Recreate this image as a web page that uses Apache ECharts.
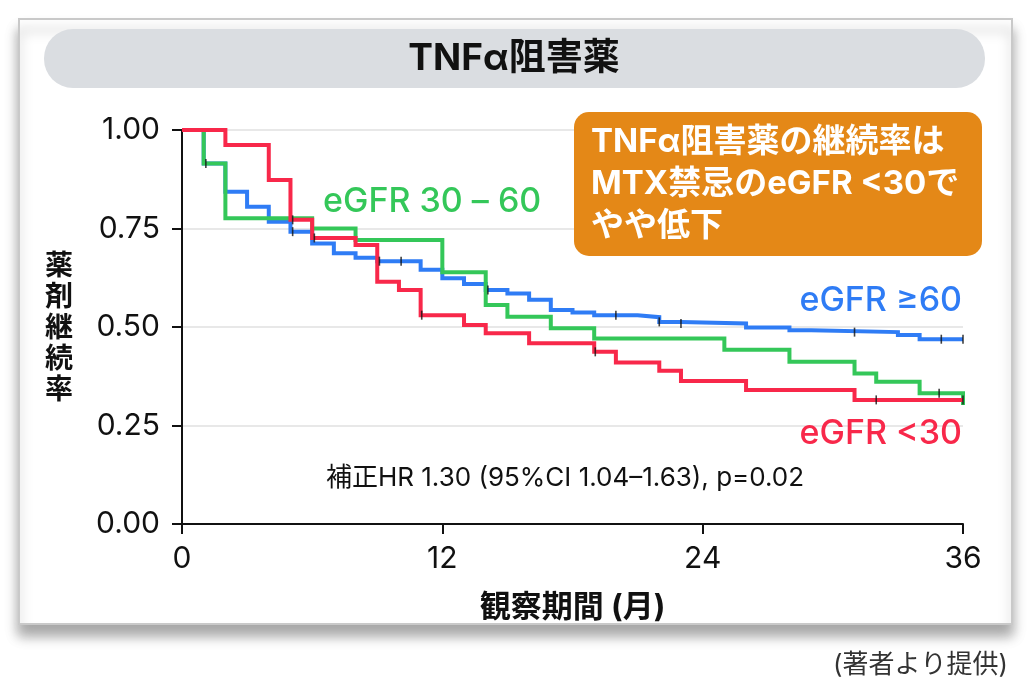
<!DOCTYPE html>
<html><head><meta charset="utf-8">
<script src="https://cdn.jsdelivr.net/npm/echarts@6/dist/echarts.min.js"></script>
<style>html,body{margin:0;padding:0;background:#fff}#c{width:1029px;height:690px}</style>
</head><body><div id="c"></div>
<script>
// ---- data ----
const xTicks = [0, 12, 24, 36];
const yTicks = [0, 0.25, 0.5, 0.75, 1.0];

const blueName = 'eGFR ≥60';
const blueT = [0, 1, 2, 3, 4, 5, 6, 7, 8, 9, 11, 12, 13, 14, 15, 16, 17, 18, 19, 21, 22, 23, 26, 28, 29, 33, 34, 36];
const blueS = [1.00, 0.915, 0.843, 0.805, 0.767, 0.742, 0.712, 0.687, 0.676, 0.667, 0.645, 0.624, 0.609, 0.594, 0.585, 0.569, 0.543, 0.537, 0.530, 0.525, 0.513, 0.509, 0.499, 0.492, 0.487, 0.480, 0.469, 0.469];
const blueCens = [5.1, 9.1, 10.1, 14.1, 20, 22, 23, 31, 35, 36];

const greenName = 'eGFR 30 – 60';
const greenT = [0, 1, 2, 6, 8, 12, 14, 15, 17, 19, 25, 28, 31, 32, 34, 36];
const greenS = [1.00, 0.915, 0.776, 0.750, 0.721, 0.639, 0.556, 0.526, 0.497, 0.471, 0.442, 0.412, 0.382, 0.361, 0.332, 0.302];
const greenCens = [1.1, 34.9];

const redName = 'eGFR <30';
const redT = [0, 2, 4, 5, 6, 8, 9, 10, 11, 13, 14, 16, 19, 20, 22, 23, 26, 31, 36];
const redS = [1.00, 0.962, 0.873, 0.772, 0.726, 0.708, 0.615, 0.594, 0.530, 0.505, 0.484, 0.459, 0.437, 0.410, 0.389, 0.363, 0.340, 0.315, 0.315];
const redCens = [5.1, 6.1, 11.05, 19.05, 32, 36];

const titleText = 'TNFα阻害薬';
const boxLines = ['TNFα阻害薬の継続率は', 'MTX禁忌のeGFR <30で', 'やや低下'];
const hrText = '補正HR 1.30 (95%CI 1.04–1.63), p=0.02';
const yName = '薬剤継続率';
const xName = '観察期間 (月)';
const footer = '(著者より提供)';

// ---- build ----
const BLUE = '#2f7cf5', GREEN = '#34c759', RED = '#f8284a';
const FONT = 'Inter, "Noto Sans CJK JP", sans-serif';
const zip = (T, S) => T.map((t, i) => [t, S[i]]);
const stepAt = (T, S, t) => { let v = S[0]; for (let i = 0; i < T.length; i++) if (T[i] <= t) v = S[i]; return v; };
const cens = (T, S, C) => C.map(t => [t, stepAt(T, S, t)]);

const lineSeries = (name, T, S, color) => ({
  type: 'line', name, step: 'end', data: zip(T, S), showSymbol: false, symbol: 'none',
  lineStyle: { color, width: 4, join: 'miter' }, silent: true, animation: false
});
const censSeries = (T, S, C) => ({
  type: 'scatter', data: cens(T, S, C), symbol: 'rect', symbolSize: [1.6, 9],
  itemStyle: { color: '#111' }, z: 5, silent: true, animation: false
});

const chart = echarts.init(document.getElementById('c'), null, { renderer: 'canvas' });
chart.setOption({
  backgroundColor: '#fff',
  animation: false,
  grid: { left: 182, right: 66, top: 130, bottom: 166, containLabel: false },
  xAxis: {
    type: 'value', min: 0, max: 36, interval: 12,
    axisLine: { show: true, lineStyle: { color: '#111', width: 2 } },
    axisTick: { show: true, length: 10, lineStyle: { color: '#111', width: 2 } },
    axisLabel: { fontSize: 30, color: '#111', fontFamily: FONT, margin: 20 },
    splitLine: { show: false },
    name: xName, nameLocation: 'middle', nameGap: 68,
    nameTextStyle: { fontSize: 31, fontWeight: 'bold', color: '#111', fontFamily: FONT }
  },
  yAxis: {
    type: 'value', min: 0, max: 1, interval: 0.25,
    axisLine: { show: true, lineStyle: { color: '#111', width: 2 } },
    axisTick: { show: true, length: 10, lineStyle: { color: '#111', width: 2 } },
    axisLabel: { fontSize: 30, color: '#111', fontFamily: FONT, margin: 22, formatter: v => v.toFixed(2) },
    splitLine: { show: true, lineStyle: { color: '#e8e8e8', width: 2 } }
  },
  series: [
    lineSeries(blueName, blueT, blueS, BLUE),
    lineSeries(greenName, greenT, greenS, GREEN),
    lineSeries(redName, redT, redS, RED),
    censSeries(blueT, blueS, blueCens),
    censSeries(greenT, greenS, greenCens),
    censSeries(redT, redS, redCens)
  ],
  graphic: [
    { type: 'rect', z: -10, shape: { x: 19, y: 19, width: 993, height: 605 },
      style: { fill: '#fff', stroke: '#c9c9c9', lineWidth: 2, shadowBlur: 12, shadowOffsetY: 11, shadowColor: 'rgba(0,0,0,0.35)' } },
    { type: 'rect', z: -9, shape: { x: 44, y: 29, width: 941, height: 59, r: 29 }, style: { fill: '#dadde1' } },
    { type: 'text', z: 100, x: 514, y: 59, style: { text: titleText, font: 'bold 37px ' + FONT, fill: '#111', align: 'center', verticalAlign: 'middle' } },
    { type: 'rect', z: 90, shape: { x: 574, y: 112, width: 408, height: 144, r: 15 }, style: { fill: '#e48817' } },
    { type: 'text', z: 100, x: 591, y: 121, style: { text: boxLines.join('\n'), font: 'bold 33px ' + FONT, lineHeight: 42, fill: '#fff', align: 'left', verticalAlign: 'top' } },
    { type: 'text', z: 100, x: 323, y: 202, style: { text: greenName, font: '500 34px ' + FONT, fill: GREEN, align: 'left', verticalAlign: 'middle' } },
    { type: 'text', z: 100, x: 962, y: 301, style: { text: blueName, font: '500 34px ' + FONT, fill: BLUE, align: 'right', verticalAlign: 'middle' } },
    { type: 'text', z: 100, x: 962, y: 434, style: { text: redName, font: '500 34px ' + FONT, fill: RED, align: 'right', verticalAlign: 'middle' } },
    { type: 'text', z: 100, x: 565, y: 478, style: { text: hrText, font: '26px ' + FONT, fill: '#111', align: 'center', verticalAlign: 'middle' } },
    { type: 'text', z: 100, x: 59, y: 329, style: { text: yName.split('').join('\n'), font: 'bold 28px ' + FONT, lineHeight: 31, fill: '#111', align: 'center', verticalAlign: 'middle' } },
    { type: 'text', z: 100, x: 1008, y: 665, style: { text: footer, font: '26px ' + FONT, fill: '#333', align: 'right', verticalAlign: 'middle' } }
  ]
});
</script></body></html>
